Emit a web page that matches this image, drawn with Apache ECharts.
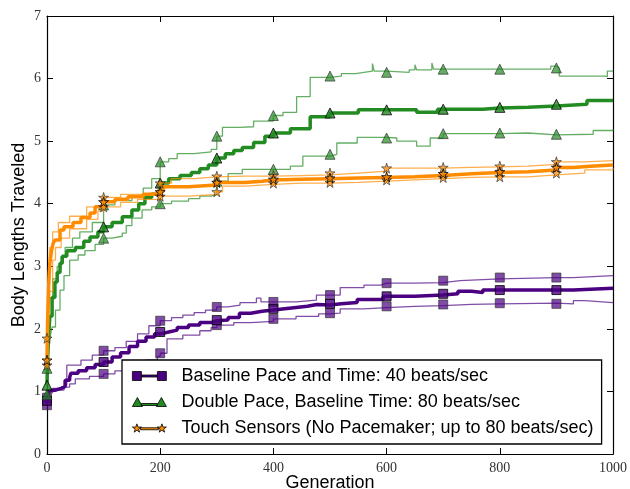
<!DOCTYPE html>
<html>
<head>
<meta charset="utf-8">
<script src="https://cdn.jsdelivr.net/npm/echarts@6/dist/echarts.min.js"></script>
<style>html,body{margin:0;padding:0;background:#fff}#c{width:630px;height:489px}</style>
</head>
<body>
<div id="c"></div>
<script>
// ---- data: [generation, body lengths] step points ----
const legendNames = [
  'Baseline Pace and Time: 40 beats/sec',
  'Double Pace, Baseline Time: 80 beats/sec',
  'Touch Sensors (No Pacemaker; up to 80 beats/sec)'
];
const xTicks = [0, 200, 400, 600, 800, 1000];
const yTicks = [0, 1, 2, 3, 4, 5, 6, 7];
const markerGens = [0, 100, 200, 300, 400, 500, 600, 700, 800, 900];

const pMed = [[0,0.85],[2,0.98],[5,1.02],[15,1.05],[25,1.08],[32,1.18],[40,1.22],[42,1.29],[55,1.33],[70,1.38],[85,1.43],[100,1.47],[115,1.55],[130,1.62],[145,1.72],[160,1.8],[175,1.87],[190,1.92],[200,1.95],[215,1.98],[230,2.02],[250,2.06],[270,2.1],[290,2.13],[300,2.14],[320,2.18],[340,2.25],[360,2.28],[380,2.3],[400,2.32],[420,2.34],[440,2.36],[460,2.39],[477,2.38],[500,2.40],[520,2.42],[548,2.47],[594,2.52],[600,2.52],[650,2.54],[700,2.56],[726,2.6],[750,2.58],[770,2.62],[800,2.62],[900,2.62],[930,2.65],[1000,2.65]];
const pHi = [[0,0.9],[3,1.0],[10,1.05],[30,1.1],[35,1.42],[60,1.5],[80,1.58],[100,1.65],[120,1.7],[140,1.8],[160,1.92],[180,2.05],[200,2.13],[220,2.18],[240,2.22],[260,2.26],[280,2.3],[300,2.35],[320,2.38],[341,2.42],[365,2.42],[370,2.49],[378,2.43],[400,2.43],[440,2.46],[476,2.54],[500,2.54],[518,2.66],[560,2.7],[590,2.73],[600,2.73],[650,2.74],[700,2.77],[730,2.8],[800,2.82],[900,2.82],[930,2.85],[1000,2.86]];
const pLo = [[0,0.78],[3,0.98],[10,1.02],[30,1.07],[40,1.12],[50,1.2],[75,1.24],[100,1.28],[120,1.33],[150,1.42],[175,1.5],[195,1.56],[200,1.61],[212,1.84],[240,1.9],[270,1.97],[290,2.02],[300,2.06],[330,2.1],[360,2.12],[400,2.16],[440,2.2],[480,2.24],[500,2.25],[518,2.32],[560,2.34],[600,2.36],[650,2.37],[700,2.39],[750,2.4],[800,2.41],[900,2.4],[930,2.45],[950,2.42],[1000,2.42]];

const gMed = [[0,1.1],[1,1.5],[3,1.9],[5,2.2],[9,2.5],[14,2.75],[18,2.9],[23,3.05],[27,3.16],[35,3.25],[50,3.3],[65,3.4],[76,3.47],[90,3.55],[100,3.63],[115,3.7],[133,3.79],[150,3.9],[162,4.0],[173,4.1],[185,4.15],[196,4.2],[200,4.33],[215,4.4],[235,4.45],[255,4.5],[270,4.56],[285,4.62],[300,4.73],[315,4.8],[330,4.85],[345,4.9],[365,4.98],[385,5.08],[400,5.13],[430,5.2],[465,5.39],[500,5.45],[550,5.5],[600,5.5],[653,5.46],[690,5.51],[700,5.51],[770,5.53],[800,5.54],[850,5.56],[900,5.59],[954,5.65],[1000,5.65]];
const gHi = [[0,1.37],[1,1.8],[3,2.3],[5,2.5],[10,2.8],[18,3.0],[25,3.15],[32,3.3],[45,3.45],[58,3.55],[80,3.7],[100,3.98],[120,4.05],[150,4.12],[170,4.25],[185,4.4],[200,4.67],[215,4.72],[230,4.8],[260,4.83],[290,4.87],[300,5.08],[310,5.22],[340,5.23],[365,5.32],[400,5.41],[417,5.46],[441,5.71],[465,6.02],[500,6.04],[520,6.08],[545,6.1],[560,6.12],[575,6.24],[578,6.12],[600,6.1],[640,6.14],[650,6.22],[653,6.14],[680,6.25],[683,6.15],[700,6.15],[800,6.15],[890,6.2],[900,6.17],[905,6.04],[985,6.03],[990,6.12],[1000,6.12]];
const gLo = [[0,0.95],[1,1.3],[3,1.7],[6,1.9],[9,2.03],[15,2.3],[23,2.62],[30,2.85],[40,3.1],[55,3.18],[67,3.25],[85,3.35],[100,3.45],[115,3.48],[133,3.53],[140,3.65],[150,3.77],[168,3.9],[185,3.95],[200,4.0],[220,4.04],[250,4.08],[270,4.12],[290,4.15],[300,4.36],[320,4.48],[345,4.55],[400,4.55],[430,4.6],[452,4.76],[500,4.79],[512,4.97],[548,5.06],[600,5.05],[618,5.0],[653,4.92],[677,5.05],[700,5.12],[800,5.13],[850,5.1],[900,5.11],[965,5.17],[1000,5.19]];

const oMed = [[0,1.5],[1,2.1],[3,2.7],[5,3.05],[8,3.25],[11,3.37],[14,3.42],[23,3.58],[30,3.63],[46,3.7],[60,3.78],[76,3.85],[85,3.95],[100,4.03],[120,4.07],[143,4.11],[170,4.15],[200,4.19],[205,4.27],[250,4.3],[300,4.34],[350,4.36],[380,4.38],[400,4.39],[450,4.4],[500,4.41],[550,4.42],[600,4.43],[650,4.45],[700,4.48],[750,4.5],[800,4.51],[850,4.54],[900,4.58],[930,4.6],[960,4.62],[1000,4.63]];
const oHi = [[0,1.85],[1,2.5],[3,3.0],[5,3.3],[10,3.55],[20,3.7],[40,3.8],[70,3.95],[100,4.1],[130,4.15],[170,4.18],[195,4.22],[200,4.33],[220,4.4],[260,4.43],[300,4.44],[350,4.44],[400,4.45],[450,4.46],[500,4.49],[550,4.52],[600,4.57],[650,4.57],[700,4.58],[750,4.59],[800,4.6],[850,4.63],[900,4.67],[950,4.69],[1000,4.7]];
const oLo = [[0,1.42],[2,1.9],[5,2.6],[10,3.1],[15,3.3],[25,3.45],[40,3.6],[70,3.75],[90,3.88],[100,3.95],[130,4.02],[160,4.07],[200,4.12],[250,4.15],[300,4.19],[310,4.28],[350,4.31],[400,4.33],[450,4.33],[500,4.34],[550,4.36],[600,4.38],[650,4.4],[700,4.42],[750,4.43],[800,4.43],[850,4.46],[900,4.49],[950,4.54],[1000,4.57]];

// ---- helpers ----
function valueAt(arr, g) {
  let v = arr[0][1];
  for (const [x, y] of arr) { if (x <= g) v = y; else break; }
  return v;
}
function markers(arr) { return markerGens.map(g => [g, valueAt(arr, g)]); }

const STAR = 'path://M50,0 L61,35 L98,35 L68,57 L79,91 L50,70 L21,91 L32,57 L2,35 L39,35 Z';
const groups = [
  {name: legendNames[0], med: pMed, hi: pHi, lo: pLo, color: '#4B0082', symbol: 'rect', size: 9,
   icon: 'path://M0,0 h9 v9 h-9 Z M9,3.5 h16 v2 h-16 Z M25,0 h9 v9 h-9 Z'},
  {name: legendNames[1], med: gMed, hi: gHi, lo: gLo, color: '#228B22', symbol: 'triangle', size: 10,
   icon: 'path://M0,9 L5,0 L10,9 Z M9,6 h16 v2 h-16 Z M24,9 L29,0 L34,9 Z'},
  {name: legendNames[2], med: oMed, hi: oHi, lo: oLo, color: '#FF8C00', symbol: STAR, size: 10,
   icon: 'path://M4.5,0 L5.6,3.2 L9,3.2 L6.2,5.2 L7.2,8.3 L4.5,6.4 L1.8,8.3 L2.8,5.2 L0,3.2 L3.4,3.2 Z M8,3.9 h18 v2 h-18 Z M29.5,0 L30.6,3.2 L34,3.2 L31.2,5.2 L32.2,8.3 L29.5,6.4 L26.8,8.3 L27.8,5.2 L25,3.2 L28.4,3.2 Z'}
];

const series = [];
groups.forEach((gr, i) => {
  ['hi', 'lo'].forEach(k => {
    series.push({type: 'line', name: gr.name + '_' + k, data: gr[k], step: 'end', symbol: 'none',
      lineStyle: {color: gr.color, width: 1.3, opacity: 0.7}, z: 2 + i * 3, silent: true});
  });
  series.push({type: 'line', name: gr.name, data: gr.med, step: 'end', symbol: 'none',
    itemStyle: {color: gr.color}, lineStyle: {color: gr.color, width: 3.5}, z: 3 + i * 3, silent: true});
  ['hi', 'lo'].forEach(k => {
    series.push({type: 'scatter', name: gr.name + '_m' + k, data: markers(gr[k]), symbol: gr.symbol, symbolSize: gr.size,
      itemStyle: {color: gr.color, opacity: 0.7, borderColor: '#333', borderWidth: 1}, z: 4 + i * 3, silent: true});
  });
  series.push({type: 'scatter', name: gr.name + '_mm', data: markers(gr.med), symbol: gr.symbol, symbolSize: gr.size,
    itemStyle: {color: gr.color, borderColor: '#000', borderWidth: 1}, z: 4 + i * 3, silent: true});
});

const tickFont = {fontFamily: 'Liberation Serif', fontSize: 14, color: '#333'};
const axisLineS = {show: true, onZero: false, lineStyle: {color: '#000', width: 1.2}};
const tickS = {show: true, inside: true, length: 6, lineStyle: {color: '#000', width: 1}};
const titleFont = {fontFamily: 'Liberation Sans', fontSize: 18, color: '#000'};

const option = {
  animation: false,
  backgroundColor: '#fff',
  grid: {left: 47, right: 17, top: 16, bottom: 35, containLabel: false, outerBoundsMode: 'none'},
  xAxis: [
    {type: 'value', min: 0, max: 1000, interval: 200, position: 'bottom',
     axisLine: axisLineS, axisTick: tickS, splitLine: {show: false},
     axisLabel: Object.assign({margin: 7, formatter: v => xTicks.includes(v) ? String(v) : ''}, tickFont),
     name: 'Generation', nameLocation: 'middle', nameGap: 20, nameMoveOverlap: false, nameTextStyle: titleFont},
    {type: 'value', min: 0, max: 1000, interval: 200, position: 'top',
     axisLine: axisLineS, axisTick: tickS, splitLine: {show: false}, axisLabel: {show: false}}
  ],
  yAxis: [
    {type: 'value', min: 0, max: 7, interval: 1, position: 'left',
     axisLine: axisLineS, axisTick: tickS, splitLine: {show: false},
     axisLabel: Object.assign({margin: 6, formatter: v => yTicks.includes(v) ? String(v) : ''}, tickFont),
     name: 'Body Lengths Traveled', nameLocation: 'middle', nameGap: 19, nameRotate: 90, nameMoveOverlap: false, nameTextStyle: titleFont},
    {type: 'value', min: 0, max: 7, interval: 1, position: 'right',
     axisLine: axisLineS, axisTick: tickS, splitLine: {show: false}, axisLabel: {show: false}}
  ],
  legend: {
    left: 122, top: 360, orient: 'vertical',
    itemWidth: 34, itemHeight: 10, itemGap: 8,
    padding: [7, 8, 7, 10],
    borderColor: '#000', borderWidth: 1.3, borderRadius: 0, backgroundColor: '#fff',
    selectedMode: false,
    textStyle: {fontFamily: 'Liberation Sans', fontSize: 18, lineHeight: 18, color: '#000', padding: [0, 0, 0, 10]},
    data: groups.map(gr => ({name: gr.name, icon: gr.icon,
      itemStyle: {color: gr.color, borderColor: '#000', borderWidth: 0.8}}))
  },
  series: series
};

const chart = echarts.init(document.getElementById('c'), null, {renderer: 'canvas'});
chart.setOption(option);
</script>
</body>
</html>
